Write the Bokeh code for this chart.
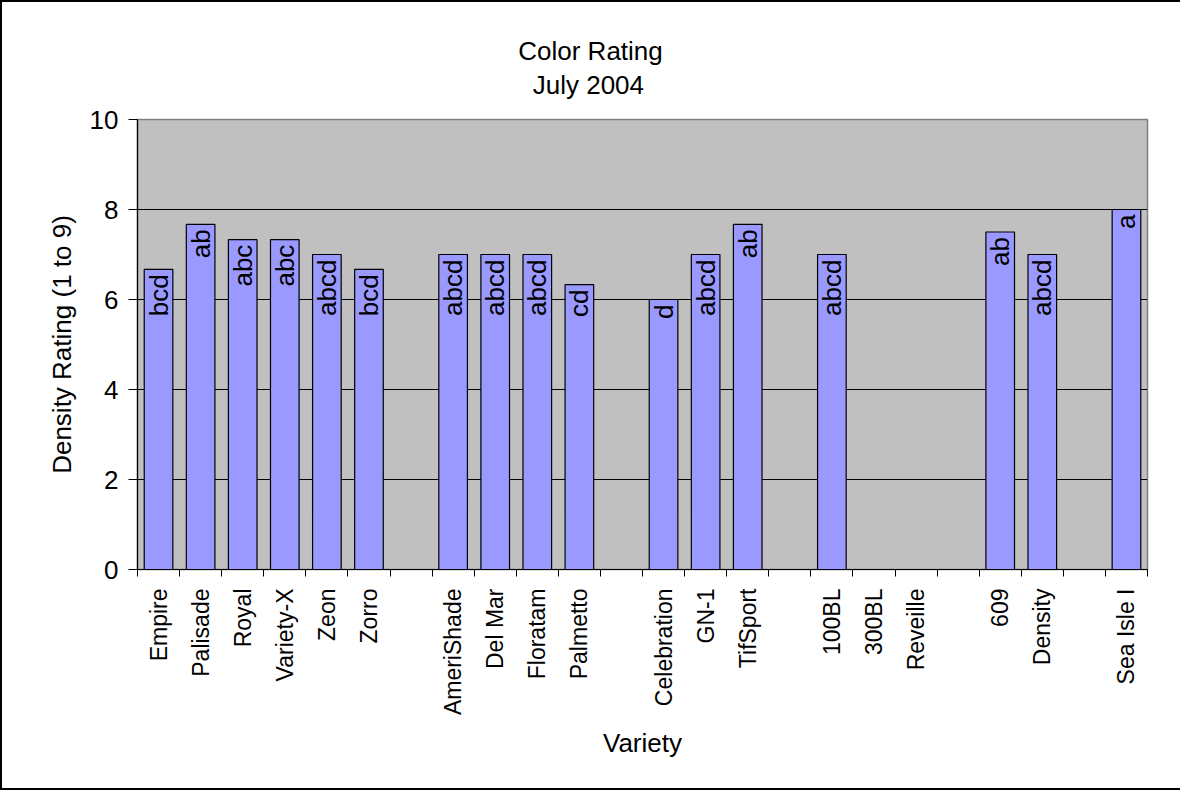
import math
from bokeh.plotting import figure
from bokeh.models import ColumnDataSource, FixedTicker, Range1d, Title, InlineStyleSheet
from bokeh.core.properties import value
from bokeh.embed import file_html
from bokeh.resources import INLINE

categories = ["Empire", "Palisade", "Royal", "Variety-X", "Zeon", "Zorro", "",
              "AmeriShade", "Del Mar", "Floratam", "Palmetto", "",
              "Celebration", "GN-1", "TifSport", "",
              "100BL", "300BL", "Reveille", "",
              "609", "Density", "", "Sea Isle I"]
values = [6.67, 7.67, 7.33, 7.33, 7.0, 6.67, None,
          7.0, 7.0, 7.0, 6.33, None,
          6.0, 7.0, 7.67, None,
          7.0, None, None, None,
          7.5, 7.0, None, 8.0]
letters = ["bcd", "ab", "abc", "abc", "abcd", "bcd", "",
           "abcd", "abcd", "abcd", "cd", "",
           "d", "abcd", "ab", "",
           "abcd", "", "", "",
           "ab", "abcd", "", "a"]
y_ticks = [0, 2, 4, 6, 8, 10]
title_lines = ["Color Rating", "July 2004"]

FONT = "Liberation Sans"
W, H = 1180, 790
FL, FR, FT, FB = 137, 1147, 119, 569  # frame edges in canvas pixels

n = len(categories)
xs = [i + 0.5 for i in range(n)]
bx = [x for x, v in zip(xs, values) if v is not None]
bv = [v for v in values if v is not None]
bl = [l for l, v in zip(letters, values) if v is not None]
src = ColumnDataSource(dict(x=bx, top=bv, lab=bl))

p = figure(width=W, height=H, output_backend="svg", toolbar_location=None,
           x_range=Range1d(0, n), y_range=Range1d(0, 10),
           min_border_left=FL, min_border_right=W - FR,
           min_border_top=FT, min_border_bottom=H - FB)
p.background_fill_color = "#C0C0C0"
p.border_fill_color = "white"
p.outline_line_color = "#808080"
p.outline_line_width = 1.5
p.stylesheets = [InlineStyleSheet(css=f"""
:host {{ position: relative; }}
:host::after {{
  content: ""; position: absolute; left: 0; top: 0;
  width: {W}px; height: {H}px; box-sizing: border-box;
  border-left: 2px solid black; border-top: 2px solid black; border-bottom: 2px solid black;
  pointer-events: none; z-index: 1000;
}}
""")]

# title: two lines, the shorter one padded so both are centred (Arial metrics)
FS = 26
em_widths = [5.557, 4.28]
pad = round((em_widths[0] - em_widths[1]) / 2 / 0.278)
title_text = title_lines[0] + "\n" + "\u00a0" * pad + title_lines[1]
off = W / 2 - em_widths[0] * FS / 2 - FL
p.add_layout(Title(text=title_text, align="left", offset=off, standoff=36,
                   vertical_align="top", text_line_height=1.14,
                   text_font=FONT, text_font_size=f"{FS}px", text_font_style="normal",
                   text_color="black"), "above")

p.vbar(x="x", top="top", width=0.68, bottom=0, source=src,
       fill_color="#9999FF", line_color="black", line_width=1.2)
p.text(x="x", y="top", text="lab", source=src, angle=math.pi / 2,
       text_align="right", text_baseline="middle", y_offset=5,
       text_font=value(FONT), text_font_size="26px", text_color="black")

# y axis
p.yaxis.ticker = FixedTicker(ticks=y_ticks)
p.yaxis.axis_line_color = "black"
p.yaxis.axis_line_width = 1.2
p.yaxis.major_tick_out = 9
p.yaxis.major_tick_in = 0
p.yaxis.major_tick_line_color = "black"
p.yaxis.minor_tick_line_color = None
p.yaxis.major_label_text_font = FONT
p.yaxis.major_label_text_font_size = "26px"
p.yaxis.major_label_text_color = "black"
p.yaxis.major_label_standoff = 10
p.yaxis.axis_label = "Density Rating (1 to 9)"
p.yaxis.axis_label_text_font = FONT
p.yaxis.axis_label_text_font_size = "26px"
p.yaxis.axis_label_text_font_style = "normal"
p.yaxis.axis_label_text_color = "black"
p.yaxis.axis_label_standoff = 10

# x axis
p.xaxis.ticker = FixedTicker(ticks=xs, minor_ticks=list(range(n + 1)))
p.xaxis.major_label_overrides = {x: c for x, c in zip(xs, categories)}
p.xaxis.major_label_orientation = math.pi / 2
p.xaxis.axis_line_color = "black"
p.xaxis.axis_line_width = 1.2
p.xaxis.major_tick_line_color = None
p.xaxis.major_tick_out = 7
p.xaxis.major_tick_in = 0
p.xaxis.minor_tick_line_color = "black"
p.xaxis.minor_tick_out = 7
p.xaxis.minor_tick_in = 0
p.xaxis.major_label_text_font = FONT
p.xaxis.major_label_text_font_size = "23px"
p.xaxis.major_label_text_color = "black"
p.xaxis.major_label_standoff = 12
p.xaxis.axis_label = "Variety"
p.xaxis.axis_label_text_font = FONT
p.xaxis.axis_label_text_font_size = "26px"
p.xaxis.axis_label_text_font_style = "normal"
p.xaxis.axis_label_text_color = "black"
p.xaxis.axis_label_standoff = 10

p.xgrid.grid_line_color = None
p.ygrid.ticker = FixedTicker(ticks=[2, 4, 6, 8])
p.ygrid.grid_line_color = "black"
p.ygrid.grid_line_width = 1

open("out.html", "w").write(file_html(p, INLINE))
